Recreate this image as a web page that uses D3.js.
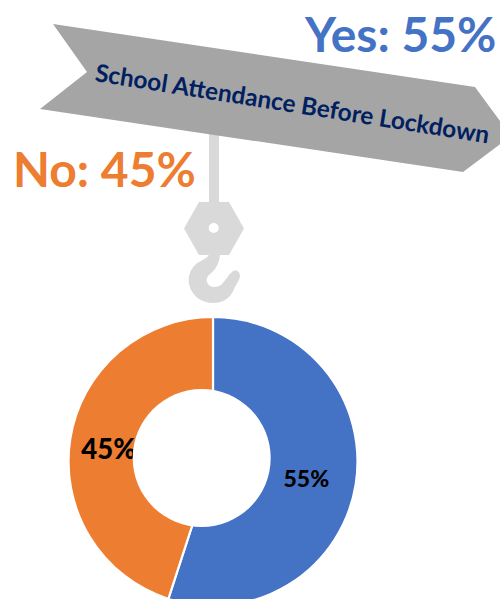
<!DOCTYPE html>
<html><head><meta charset="utf-8">
<script src="https://cdn.jsdelivr.net/npm/d3@7"></script>
<style>html,body{margin:0;padding:0;background:#fff}svg{display:block}text{font-family:Lato,"Open Sans",sans-serif}</style>
</head><body><div id="chart"></div>
<script>
const categories = ["Yes", "No"];
const values = [55, 45];
const colors = ["#4472C4", "#ED7D31"];
const title = "School Attendance Before Lockdown";

const W = 500, H = 599;
const svg = d3.select("#chart").append("svg").attr("width", W).attr("height", H);
const line = d3.line();

// hook
svg.append("rect").attr("x", 209).attr("y", 130).attr("width", 10).attr("height", 80).attr("fill", "#D9D9D9");
svg.append("path").attr("fill", "#D9D9D9").attr("d", line([[199,202],[229,202],[244,228.5],[229,255],[199,255],[184,228.5]]) + "Z");
svg.append("circle").attr("cx", 213.7).attr("cy", 228).attr("r", 5).attr("fill", "#fff");
svg.append("path").attr("fill", "#D9D9D9").attr("d",
  "M209,254 C208,259 200,260 195,265 C189,271 188,279 189,284 C191,295 201,303 213,303 C224,303 231,297 234,289 C236,284 239,282 240,276 C240,271 235,269 232,272 C228,275 226,280 222,284 C219,287 214,288 210,286 C206,283 206,279 208,276 C212,272 219,268 220,254 Z");

// banner
svg.append("path").attr("fill", "#A5A5A5").attr("d",
  line([[53,24],[475,87],[511,136],[463,172],[40,109],[87,72]]) + "Z");
svg.append("text").text(title)
  .attr("transform", "translate(292,106) rotate(9)")
  .attr("text-anchor", "middle").attr("dominant-baseline", "middle")
  .attr("font-size", 24.4).attr("font-weight", 700).attr("fill", "#002060");

// donut
const cx = 213, cy = 461.5, R = 144.5;
const pie = d3.pie().sort(null).value(d => d)(values);
const arc = d3.arc().innerRadius(0).outerRadius(R);
const g = svg.append("g").attr("transform", `translate(${cx},${cy})`);
g.selectAll("path").data(pie).join("path")
  .attr("d", arc).attr("fill", (d, i) => colors[i])
  .attr("stroke", "#fff").attr("stroke-width", 2.2);
svg.append("circle").attr("cx", 201.7).attr("cy", 458).attr("r", 69).attr("fill", "#fff");

// data labels
const labelArc = d3.arc().innerRadius(R * 0.675).outerRadius(R * 0.675);
g.selectAll("text").data(pie).join("text")
  .text(d => d.value + "%")
  .attr("x", (d, i) => labelArc.centroid(d)[0] + (i === 0 ? -3 : -8))
  .attr("y", (d, i) => labelArc.centroid(d)[1] + (i === 0 ? 4 : 6))
  .attr("text-anchor", "middle").attr("dominant-baseline", "middle")
  .attr("font-weight", 900).attr("fill", "#000")
  .attr("font-size", (d, i) => i === 0 ? 23 : 27.5);

// big call-outs
svg.append("text").text(`${categories[0]}: ${values[0]}%`)
  .attr("x", 305).attr("y", 52).attr("font-size", 48).attr("font-weight", 700).attr("fill", colors[0]);
svg.append("text").text(`${categories[1]}: ${values[1]}%`)
  .attr("x", 13).attr("y", 187).attr("font-size", 48).attr("font-weight", 700).attr("fill", colors[1]);
</script></body></html>
